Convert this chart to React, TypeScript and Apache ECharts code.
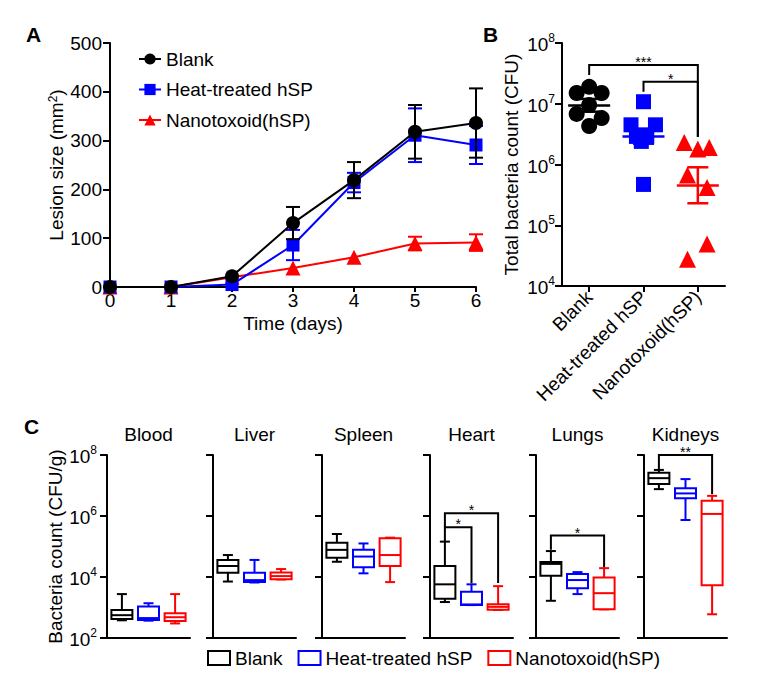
import React, { useEffect, useRef } from "react";
import * as echarts from "echarts";

const FONT = "'Liberation Sans', Arial, Helvetica, sans-serif";

// ---------- Panel A: lesion size ----------
const days = [0, 1, 2, 3, 4, 5, 6];
const blankLesion = [0, 0, 22, 131, 219, 318, 336];
const blankLesionErr = [0, 0, 0, 33, 37, 55, 71];
const heatLesion = [0, 0, 5, 86, 214, 311, 291];
const heatLesionErr = [0, 0, 0, 31, 20, 55, 39];
const nanoLesion = [0, 0, 20, 39, 61, 89, 91];
const nanoLesionErr = [0, 0, 0, 0, 0, 14, 17];
const lesionTicks = [0, 100, 200, 300, 400, 500];

const groupNames = ["Blank", "Heat-treated hSP", "Nanotoxoid(hSP)"];
const groupColors = ["#000000", "#0000ff", "#ff0000"];

// ---------- Panel B: total bacteria (CFU) ----------
const blankCFU = [1.9e7, 1.5e7, 1.5e7, 9.5e6, 6.8e6, 5.8e6, 4.3e6];
const blankJitter = [0, -0.23, 0.23, 0, -0.23, 0.23, 0];
const heatCFU = [1.08e7, 4.5e6, 4.5e6, 2.9e6, 2.9e6, 2.4e6, 4.7e5];
const heatJitter = [0, -0.23, 0.22, -0.13, 0.06, -0.04, 0];
const nanoCFU = [2.3e6, 1.8e6, 1.9e6, 6.7e5, 4.2e5, 4.9e4, 2.75e4];
const nanoJitter = [-0.25, 0, 0.21, -0.19, 0.17, 0.17, -0.19];
const cfuMean = [9.4e6, 2.9e6, 4.5e5];
const cfuSemLow = [7.4e6, 2.2e6, 2.3e5];
const cfuSemHigh = [1.2e7, 3.9e6, 9.0e5];
const bBracketFrom = [0, 1];
const bBracketTo = [2, 2];
const bBracketTop = [4.35e7, 2.3e7];
const bBracketFromEnd = [2.97e7, 1.58e7];
const bBracketToEnd = [2.84e6, 2.84e6];
const bBracketLabel = ["***", "*"];

// ---------- Panel C: organ bacteria (CFU/g), [min, Q1, median, Q3, max] ----------
const organs = ["Blood", "Liver", "Spleen", "Heart", "Lungs", "Kidneys"];
const blankOrganBox = [
  [380, 420, 560, 830, 2750],
  [7100, 13800, 22900, 36300, 52500],
  [31600, 42700, 77600, 131800, 257000],
  [1510, 1950, 5750, 22900, 144500],
  [1660, 10960, 26900, 30900, 70800],
  [7.6e6, 1.12e7, 1.74e7, 2.63e7, 3.24e7],
];
const heatOrganBox = [
  [370, 390, 450, 1070, 1380],
  [6600, 6900, 7900, 13800, 36300],
  [13200, 20900, 46800, 77600, 125900],
  [1200, 1210, 1260, 3310, 5750],
  [2750, 4270, 7940, 12600, 14450],
  [7.4e5, 3.8e6, 5.5e6, 8.1e6, 1.62e7],
];
const nanoOrganBox = [
  [300, 360, 480, 650, 2750],
  [8300, 8500, 10700, 14100, 18200],
  [6800, 22900, 52500, 186200, 195000],
  [830, 850, 1050, 1290, 5010],
  [870, 880, 2950, 9550, 19500],
  [600, 5400, 1.17e6, 3.16e6, 4.57e6],
];
const cBracketOrgan = [3, 3, 4, 5];
const cBracketFrom = [0, 0, 0, 0];
const cBracketTo = [2, 1, 2, 2];
const cBracketTop = [1.23e6, 4.27e5, 2.29e5, 1.0e8];
const cBracketFromEnd = [4.27e5, 1.45e5, 7.8e4, 3.2e7];
const cBracketToEnd = [6.3e3, 6.2e3, 2.1e4, 5.2e6];
const cBracketLabel = ["*", "*", "*", "**"];

// layout constants
const organLefts = [107, 213, 322, 430, 536, 644];
const organWidth = 83;

const supRich = {
  b: { fontSize: 19, fontFamily: FONT, color: "#000", padding: [3, 0, 0, 0], verticalAlign: "bottom" },
  sup: { fontSize: 12, fontFamily: FONT, color: "#000", verticalAlign: "top" },
};
const powLabel = (v: number) => `{b|10}{sup|${Math.round(Math.log10(v))}}`;

const lineAxis = { show: true, onZero: false, lineStyle: { color: "#000", width: 2 } };

function errorBarRender(color: string, capW: number) {
  return (params: any, api: any) => {
    const x = api.value(0);
    const lo = api.coord([x, api.value(1)]);
    const hi = api.coord([x, api.value(2)]);
    const st = { stroke: color, lineWidth: 2 };
    return {
      type: "group",
      children: [
        { type: "line", shape: { x1: lo[0], y1: lo[1], x2: hi[0], y2: hi[1] }, style: st },
        { type: "line", shape: { x1: lo[0] - capW / 2, y1: lo[1], x2: lo[0] + capW / 2, y2: lo[1] }, style: st },
        { type: "line", shape: { x1: hi[0] - capW / 2, y1: hi[1], x2: hi[0] + capW / 2, y2: hi[1] }, style: st },
      ],
    };
  };
}

function bracketRender(from: number[], to: number[], top: number[], fromEnd: number[], toEnd: number[], label: string[], idx: number[]) {
  return (params: any, api: any) => {
    const i = idx[params.dataIndex];
    const pTL = api.coord([from[i], top[i]]);
    const pTR = api.coord([to[i], top[i]]);
    const pL = api.coord([from[i], fromEnd[i]]);
    const pR = api.coord([to[i], toEnd[i]]);
    return {
      type: "group",
      children: [
        { type: "polyline", shape: { points: [pL, pTL, pTR, pR] }, style: { stroke: "#000", lineWidth: 2, fill: null } },
        {
          type: "text",
          x: (pTL[0] + pTR[0]) / 2,
          y: pTL[1] - 3,
          style: { text: label[i], fill: "#000", fontSize: 14, fontFamily: FONT, align: "center", verticalAlign: "middle" },
        },
      ],
    };
  };
}

function boxRender(color: string) {
  return (params: any, api: any) => {
    const x = api.value(0);
    const p = [1, 2, 3, 4, 5].map((k) => api.coord([x, api.value(k)]));
    const cx = p[0][0];
    const hw = 10.5;
    const cw = 5;
    const [yMin, yQ1, yMed, yQ3, yMax] = p.map((q: number[]) => q[1]);
    const st = { stroke: color, lineWidth: 2 };
    return {
      type: "group",
      children: [
        { type: "line", shape: { x1: cx, y1: yMax, x2: cx, y2: yQ3 }, style: st },
        { type: "line", shape: { x1: cx, y1: yQ1, x2: cx, y2: yMin }, style: st },
        { type: "line", shape: { x1: cx - cw, y1: yMax, x2: cx + cw, y2: yMax }, style: st },
        { type: "line", shape: { x1: cx - cw, y1: yMin, x2: cx + cw, y2: yMin }, style: st },
        { type: "rect", shape: { x: cx - hw, y: yQ3, width: 2 * hw, height: yQ1 - yQ3 }, style: { fill: "#fff", stroke: color, lineWidth: 2 } },
        { type: "line", shape: { x1: cx - hw, y1: yMed, x2: cx + hw, y2: yMed }, style: st },
      ],
    };
  };
}

function buildOption() {
  const grids: any[] = [
    { left: 110, top: 43, width: 366, height: 244 },
    { left: 562, top: 43, width: 163, height: 243 },
    ...organLefts.map((l) => ({ left: l, top: 455, width: organWidth, height: 183 })),
  ];

  const xAxes: any[] = [
    {
      type: "value", gridIndex: 0, min: days[0], max: days[days.length - 1], interval: 1,
      axisLine: lineAxis, axisTick: { show: true, length: 5, lineStyle: { color: "#000", width: 2 } },
      splitLine: { show: false },
      axisLabel: { color: "#000", fontSize: 19, fontFamily: FONT, margin: 4 },
      name: "Time (days)", nameLocation: "middle", nameGap: 27,
      nameTextStyle: { color: "#000", fontSize: 19, fontFamily: FONT },
    },
    {
      type: "category", gridIndex: 1, data: groupNames, boundaryGap: true,
      axisLine: lineAxis, axisTick: { show: true, alignWithLabel: true, length: 6, lineStyle: { color: "#000", width: 2 } },
      splitLine: { show: false },
      axisLabel: { color: "#000", fontSize: 19, fontFamily: FONT, rotate: 45, margin: 8, interval: 0 },
    },
    { type: "value", gridIndex: 1, min: -0.5, max: 2.5, show: false, axisLine: { onZero: false }, splitLine: { show: false } },
    ...organs.map((_, o) => ({
      type: "value", gridIndex: 2 + o, min: -0.56, max: 2.56,
      axisLine: lineAxis, axisTick: { show: false }, axisLabel: { show: false }, splitLine: { show: false },
    })),
  ];

  const yAxes: any[] = [
    {
      type: "value", gridIndex: 0, min: lesionTicks[0], max: lesionTicks[lesionTicks.length - 1], interval: 100,
      axisLine: lineAxis, axisTick: { show: true, length: 7, lineStyle: { color: "#000", width: 2 } },
      splitLine: { show: false },
      axisLabel: { color: "#000", fontSize: 19, fontFamily: FONT, margin: 8 },
      name: "Lesion size (mm{sup|2})", nameLocation: "middle", nameGap: 43,
      nameTextStyle: { color: "#000", fontSize: 19, fontFamily: FONT, rich: { sup: { fontSize: 12, fontFamily: FONT, color: "#000", verticalAlign: "top" } } },
    },
    {
      type: "log", logBase: 10, gridIndex: 1, min: 1e4, max: 1e8,
      axisLine: lineAxis, axisTick: { show: true, length: 7, lineStyle: { color: "#000", width: 2 } },
      splitLine: { show: false }, minorTick: { show: false },
      axisLabel: { formatter: powLabel, rich: supRich, margin: 7 },
      name: "Total bacteria count (CFU)", nameLocation: "middle", nameGap: 41,
      nameTextStyle: { color: "#000", fontSize: 19, fontFamily: FONT },
    },
    ...organs.map((_, o) => ({
      type: "log", logBase: 100, gridIndex: 2 + o, min: 1e2, max: 1e8,
      axisLine: lineAxis, axisTick: { show: true, length: 7, lineStyle: { color: "#000", width: 2 } },
      splitLine: { show: false },
      axisLabel: o === 0 ? { show: true, formatter: powLabel, rich: supRich, margin: 10 } : { show: false },
      name: o === 0 ? "Bacteria count (CFU/g)" : "",
      nameLocation: "middle", nameGap: 42,
      nameTextStyle: { color: "#000", fontSize: 19, fontFamily: FONT },
    })),
  ];

  const lesionVals = [blankLesion, heatLesion, nanoLesion];
  const lesionErrs = [blankLesionErr, heatLesionErr, nanoLesionErr];
  const symbols = ["circle", "rect", "triangle"];
  const symbolSizes = [14, 13, 15];
  const zs = [6, 5, 4];

  const series: any[] = [];
  // Panel A lines (first, so the legend uses their line+marker icon)
  groupNames.forEach((name, g) => {
    series.push({
      type: "line", name, xAxisIndex: 0, yAxisIndex: 0, z: zs[g],
      data: days.map((d, i) => [d, lesionVals[g][i]]),
      symbol: symbols[g], symbolSize: symbolSizes[g],
      itemStyle: { color: groupColors[g] },
      lineStyle: { color: groupColors[g], width: 2 },
    });
  });
  groupNames.forEach((name, g) => {
    series.push({
      type: "custom", xAxisIndex: 0, yAxisIndex: 0, z: zs[g],
      renderItem: errorBarRender(groupColors[g], 14),
      encode: { x: 0, y: [1, 2] },
      data: days
        .map((d, i) => [d, lesionVals[g][i] - lesionErrs[g][i], lesionVals[g][i] + lesionErrs[g][i]])
        .filter((_, i) => lesionErrs[g][i] > 0),
    });
  });

  // Panel B scatter
  const cfus = [blankCFU, heatCFU, nanoCFU];
  const jitters = [blankJitter, heatJitter, nanoJitter];
  const bSizes = [16, 15, 17];
  groupNames.forEach((_, g) => {
    series.push({
      type: "scatter", xAxisIndex: 2, yAxisIndex: 1, z: 3,
      symbol: symbols[g], symbolSize: bSizes[g],
      itemStyle: { color: groupColors[g], opacity: 1 },
      data: cfus[g].map((v, i) => [g + jitters[g][i], v]),
    });
  });
  series.push({
    type: "custom", xAxisIndex: 2, yAxisIndex: 1, z: 4,
    encode: { x: 0, y: [1, 2, 3] },
    data: cfuMean.map((m, i) => [i, m, cfuSemLow[i], cfuSemHigh[i]]),
    renderItem: (params: any, api: any) => {
      const i = params.dataIndex;
      const color = groupColors[i];
      const x = api.value(0);
      const m = api.coord([x, api.value(1)]);
      const lo = api.coord([x, api.value(2)]);
      const hi = api.coord([x, api.value(3)]);
      const st = { stroke: color, lineWidth: 2.5 };
      return {
        type: "group",
        children: [
          { type: "line", shape: { x1: m[0] - 21, y1: m[1], x2: m[0] + 21, y2: m[1] }, style: st },
          { type: "line", shape: { x1: lo[0], y1: lo[1], x2: hi[0], y2: hi[1] }, style: st },
          { type: "line", shape: { x1: lo[0] - 10.5, y1: lo[1], x2: lo[0] + 10.5, y2: lo[1] }, style: st },
          { type: "line", shape: { x1: hi[0] - 10.5, y1: hi[1], x2: hi[0] + 10.5, y2: hi[1] }, style: st },
        ],
      };
    },
  });
  const bIdx = bBracketFrom.map((_, i) => i);
  series.push({
    type: "custom", xAxisIndex: 2, yAxisIndex: 1, z: 4,
    encode: { x: [0, 2], y: 1 },
    data: bIdx.map((i) => [bBracketFrom[i], bBracketTop[i], bBracketTo[i]]),
    renderItem: bracketRender(bBracketFrom, bBracketTo, bBracketTop, bBracketFromEnd, bBracketToEnd, bBracketLabel, bIdx),
  });

  // Panel C boxes
  const boxes = [blankOrganBox, heatOrganBox, nanoOrganBox];
  organs.forEach((_, o) => {
    groupNames.forEach((name, g) => {
      series.push({
        type: "custom", name, xAxisIndex: 3 + o, yAxisIndex: 2 + o, z: 3,
        itemStyle: { color: groupColors[g] },
        encode: { x: 0, y: [1, 2, 3, 4, 5] },
        data: [[g, ...boxes[g][o]]],
        renderItem: boxRender(groupColors[g]),
      });
    });
    const idx = cBracketOrgan.map((org, i) => (org === o ? i : -1)).filter((i) => i >= 0);
    if (idx.length) {
      series.push({
        type: "custom", xAxisIndex: 3 + o, yAxisIndex: 2 + o, z: 4, clip: false,
        encode: { x: [0, 2], y: 1 },
        data: idx.map((i) => [cBracketFrom[i], cBracketTop[i], cBracketTo[i]]),
        renderItem: bracketRender(cBracketFrom, cBracketTo, cBracketTop, cBracketFromEnd, cBracketToEnd, cBracketLabel, idx),
      });
    }
  });

  const panelLetters = [
    { t: "A", x: 26, y: 24 },
    { t: "B", x: 483, y: 24 },
    { t: "C", x: 24, y: 416 },
  ];

  return {
    animation: false,
    backgroundColor: "#fff",
    textStyle: { fontFamily: FONT, color: "#000" },
    grid: grids,
    xAxis: xAxes,
    yAxis: yAxes,
    legend: [
      {
        orient: "vertical", left: 133, top: 44, itemWidth: 22, itemHeight: 14, itemGap: 10.5,
        selectedMode: false, data: groupNames,
        textStyle: { fontSize: 19, color: "#000", fontFamily: FONT, lineHeight: 20 },
      },
      {
        orient: "horizontal", left: 202, top: 643, itemWidth: 22, itemHeight: 14, itemGap: 15,
        selectedMode: false,
        data: groupNames.map((n, i) => ({
          name: n, icon: "rect",
          itemStyle: { color: "#fff", borderColor: groupColors[i], borderWidth: 2 },
        })),
        textStyle: { fontSize: 19, color: "#000", fontFamily: FONT, lineHeight: 20 },
      },
    ],
    graphic: [
      ...panelLetters.map((p) => ({
        type: "text", x: p.x, y: p.y,
        style: { text: p.t, fontSize: 21, fontWeight: "bold", fill: "#000", fontFamily: FONT, verticalAlign: "top" },
      })),
      ...organs.map((o, i) => ({
        type: "text", x: organLefts[i] + organWidth / 2, y: 434,
        style: { text: o, fontSize: 19, fill: "#000", fontFamily: FONT, align: "center", verticalAlign: "middle" },
      })),
    ],
    series,
  };
}

export default function App() {
  const ref = useRef<HTMLDivElement>(null);
  useEffect(() => {
    document.body.style.margin = "0";
    const chart = echarts.init(ref.current!, null, { renderer: "svg" });
    chart.setOption(buildOption() as any);
    return () => chart.dispose();
  }, []);
  return <div ref={ref} style={{ width: 757, height: 686, background: "#fff" }} />;
}
